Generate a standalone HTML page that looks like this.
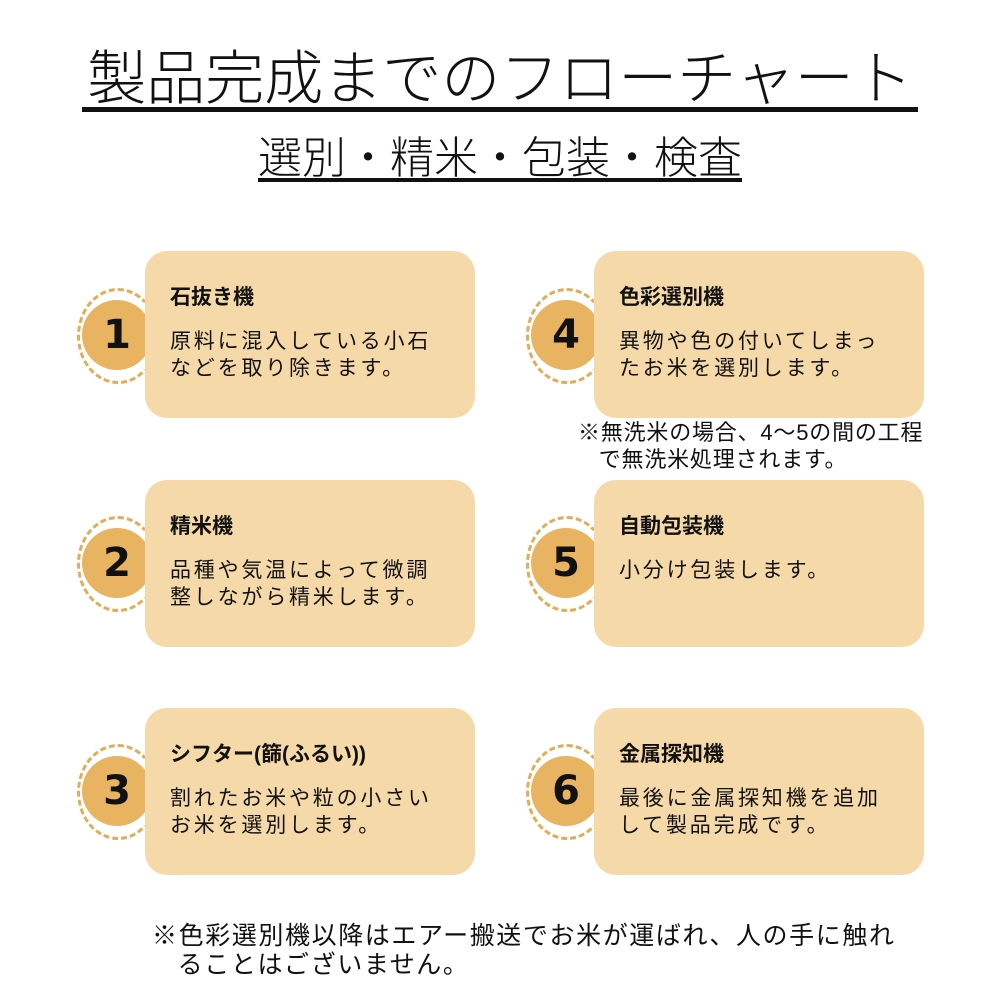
<!DOCTYPE html>
<html><head><meta charset="utf-8"><style>
*{margin:0;padding:0;box-sizing:border-box}
body{width:1000px;height:1000px;background:#fff;position:relative;overflow:hidden;font-family:"Liberation Sans","Noto Sans CJK JP",sans-serif;color:#111}
.a{position:absolute;white-space:nowrap}
.title{left:70px;top:44px;width:860px;font-size:59px;font-weight:300;line-height:70px;letter-spacing:0px;text-align:center}
.ul1{left:82px;top:107px;width:836px;height:5px;background:#111}
.sub{left:258px;top:135px;width:484px;font-size:44px;font-weight:300;line-height:48px;text-align:center}
.ul2{left:258px;top:178px;width:484px;height:4px;background:#111}
.box{position:absolute;width:330px;height:167px;background:#f6d9a8;border-radius:22px}
.box h3{position:absolute;left:25px;top:30px;font-size:21px;font-weight:bold;white-space:nowrap}
.box p{position:absolute;left:25px;top:77px;font-size:21px;line-height:27px;letter-spacing:2.8px;white-space:nowrap}
.ring{position:absolute;width:82px;height:96px;border:3px dashed #e0ad5a;border-radius:50%;border-right-color:transparent}
.circ{position:absolute;width:70px;height:70px;border-radius:50%;background:#e8b462;font-size:40px;font-weight:bold;text-align:center;line-height:70px;font-family:"DejaVu Sans","Liberation Sans",sans-serif}
.note{font-size:22px;line-height:27px;letter-spacing:0.8px}
.foot{font-size:25px;line-height:29px;letter-spacing:1.6px}
</style></head><body>
<div class="a title">製品完成までのフローチャート</div>
<div class="a ul1"></div>
<div class="a sub">選別・精米・包装・検査</div>
<div class="a ul2"></div>

<div class="ring" style="left:77px;top:288px"></div>
<div class="circ" style="left:82px;top:300px">1</div>
<div class="box" style="left:145px;top:251px"><h3>石抜き機</h3><p>原料に混入している小石<br>などを取り除きます。</p></div>

<div class="ring" style="left:77px;top:516px"></div>
<div class="circ" style="left:82px;top:528px">2</div>
<div class="box" style="left:145px;top:480px"><h3>精米機</h3><p>品種や気温によって微調<br>整しながら精米します。</p></div>

<div class="ring" style="left:77px;top:744px"></div>
<div class="circ" style="left:82px;top:756px">3</div>
<div class="box" style="left:145px;top:708px"><h3>シフター(篩(ふるい))</h3><p>割れたお米や粒の小さい<br>お米を選別します。</p></div>

<div class="ring" style="left:526px;top:288px"></div>
<div class="circ" style="left:531px;top:300px">4</div>
<div class="box" style="left:594px;top:251px"><h3>色彩選別機</h3><p>異物や色の付いてしまっ<br>たお米を選別します。</p></div>

<div class="ring" style="left:526px;top:516px"></div>
<div class="circ" style="left:531px;top:528px">5</div>
<div class="box" style="left:594px;top:480px"><h3>自動包装機</h3><p>小分け包装します。</p></div>

<div class="ring" style="left:526px;top:744px"></div>
<div class="circ" style="left:531px;top:756px">6</div>
<div class="box" style="left:594px;top:708px"><h3>金属探知機</h3><p>最後に金属探知機を追加<br>して製品完成です。</p></div>

<div class="a note" style="left:578px;top:419px">※無洗米の場合、4〜5の間の工程<br>&nbsp;&nbsp;&nbsp;で無洗米処理されます。</div>

<div class="a foot" style="left:152px;top:922px">※色彩選別機以降はエアー搬送でお米が運ばれ、人の手に触れ<br>&nbsp;&nbsp;&nbsp;ることはございません。</div>
</body></html>
